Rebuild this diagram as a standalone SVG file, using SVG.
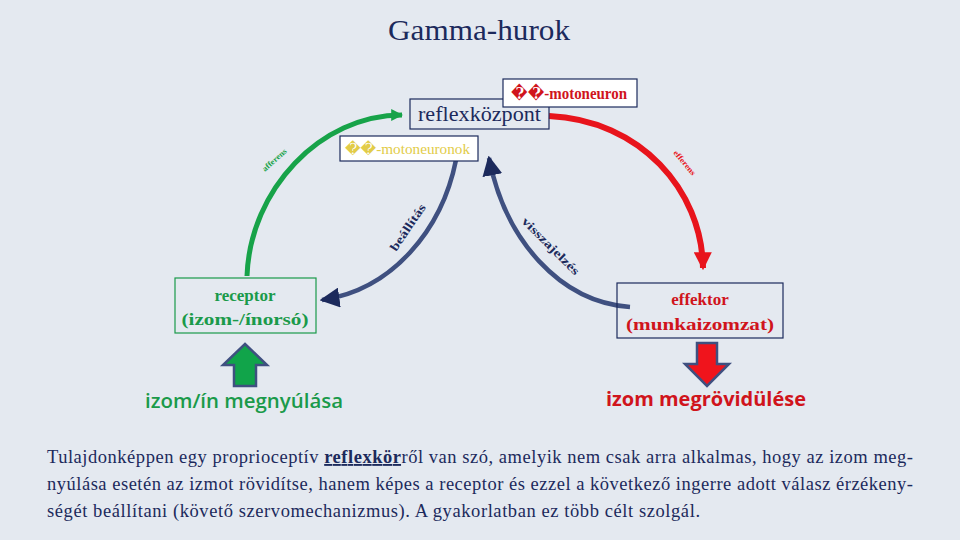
<svg xmlns="http://www.w3.org/2000/svg" width="960" height="540" viewBox="0 0 960 540">
<defs>
<style>
.serif{font-family:"Liberation Serif","DejaVu Serif",serif}
.sans{font-family:"Open Sans","Liberation Sans",sans-serif}
.box{fill:none;stroke:#1c2a5c;stroke-width:1.2}
.wbox{fill:#ffffff;stroke:#1c2a5c;stroke-width:1.2}
.para{font-size:18.5px;fill:#1c2a5c}
.lbl{font-weight:bold;font-size:12px;fill:#1c2a5c}
</style>
<marker id="ahNavy" markerUnits="userSpaceOnUse" markerWidth="20" markerHeight="20" refX="14" refY="8" orient="auto" viewBox="0 0 16 16">
<path d="M0,0 L16,8 L0,16 Z" fill="#1c2a5c"/>
</marker>
<marker id="ahGreen" markerUnits="userSpaceOnUse" markerWidth="12" markerHeight="12" refX="9" refY="5" orient="auto" viewBox="0 0 10 10">
<path d="M0,0 L10,5 L0,10 Z" fill="#17a349"/>
</marker>
<marker id="ahRed" markerUnits="userSpaceOnUse" markerWidth="18" markerHeight="18" refX="14" refY="8" orient="auto" viewBox="0 0 16 16">
<path d="M0,0 L16,8 L0,16 Z" fill="#e8141c"/>
</marker>
</defs>
<rect width="960" height="540" fill="#e4e9f0"/>
<text class="serif" x="479" y="40" font-size="30" fill="#1c2a5c" text-anchor="middle" textLength="182" lengthAdjust="spacingAndGlyphs">Gamma-hurok</text>

<g id="connectors">
<path d="M247,276 C250,190 320,115 402,115" fill="none" stroke="#17a349" stroke-width="5" marker-end="url(#ahGreen)"/>
<path d="M549,116 C640,120 702,190 703,268" fill="none" stroke="#e8141c" stroke-width="6" marker-end="url(#ahRed)"/>
<path d="M456,160 C442,230 392,290 322,300" fill="none" stroke="#3f5080" stroke-width="4.5" marker-end="url(#ahNavy)"/>
<path d="M630,307 C560,302 505,240 489,158" fill="none" stroke="#3f5080" stroke-width="4.5" marker-end="url(#ahNavy)"/>
<text class="serif" font-size="8" font-weight="bold" fill="#17a349" transform="translate(265,172) rotate(-42)" textLength="30" lengthAdjust="spacingAndGlyphs">afferens</text>
<text class="serif" font-size="8" font-weight="bold" fill="#e8141c" transform="translate(673,153) rotate(50)" textLength="30" lengthAdjust="spacingAndGlyphs">efferens</text>
<text class="serif lbl" transform="translate(396,252) rotate(-56)" textLength="54" lengthAdjust="spacingAndGlyphs">beállítás</text>
<text class="serif lbl" transform="translate(521,222) rotate(45)" textLength="76" lengthAdjust="spacingAndGlyphs">visszajelzés</text>
</g>

<g id="reflexkozpont">
<rect class="box" x="410" y="99" width="139" height="30"/>
<text class="serif" x="418" y="121" font-size="20" fill="#1c2a5c" textLength="123" lengthAdjust="spacingAndGlyphs">reflexközpont</text>
</g>
<g id="motoneuron">
<rect class="wbox" x="503" y="79" width="134" height="28"/>
<text class="serif" x="511" y="99" font-size="16" font-weight="bold" fill="#d0141c" textLength="116" lengthAdjust="spacingAndGlyphs">��-motoneuron</text>
</g>
<g id="motoneuronok">
<rect class="wbox" x="340" y="136" width="138" height="25"/>
<text class="serif" x="345" y="154" font-size="15" fill="#e2cc48" textLength="125" lengthAdjust="spacingAndGlyphs">��-motoneuronok</text>
</g>
<g id="receptor">
<rect x="175" y="278" width="141" height="55" fill="none" stroke="#1a9a4a" stroke-width="1.2"/>
<text class="serif" x="245" y="301" font-size="17" font-weight="bold" fill="#1a9a4a" text-anchor="middle">receptor</text>
<text class="serif" x="245" y="325" font-size="17" font-weight="bold" fill="#1a9a4a" text-anchor="middle" textLength="127" lengthAdjust="spacingAndGlyphs">(izom-/ínorsó)</text>
</g>
<g id="effektor">
<rect class="box" x="617" y="283" width="166" height="55"/>
<text class="serif" x="700" y="305" font-size="17" font-weight="bold" fill="#d0141c" text-anchor="middle">effektor</text>
<text class="serif" x="700" y="330" font-size="17" font-weight="bold" fill="#d0141c" text-anchor="middle" textLength="148" lengthAdjust="spacingAndGlyphs">(munkaizomzat)</text>
</g>
<g id="megnyulas">
<path d="M245,344 L267,365 L256,365 L256,386 L234,386 L234,365 L223,365 Z" fill="#11a44a" stroke="#3f5080" stroke-width="2.5" stroke-linejoin="miter"/>
<text class="sans" x="145" y="408" font-size="20" font-weight="600" fill="#1a9a4a" textLength="198" lengthAdjust="spacingAndGlyphs">izom/ín megnyúlása</text>
</g>
<g id="rovidules">
<path d="M697,343 L717,343 L717,364 L729,364 L707,386 L685,364 L697,364 Z" fill="#f0141c" stroke="#3f5080" stroke-width="2.5"/>
<text class="sans" x="606" y="406" font-size="20" font-weight="bold" fill="#d0141c" textLength="200" lengthAdjust="spacingAndGlyphs">izom megrövidülése</text>
</g>

<g id="paragraph">
<text class="serif para" x="47" y="463" textLength="866" lengthAdjust="spacing">Tulajdonképpen egy proprioceptív <tspan font-weight="bold" text-decoration="underline">reflexkör</tspan>ről van szó, amelyik nem csak arra alkalmas, hogy az izom meg-</text>
<text class="serif para" x="47" y="490" textLength="866" lengthAdjust="spacing">nyúlása esetén az izmot rövidítse, hanem képes a receptor és ezzel a következő ingerre adott válasz érzékeny-</text>
<text class="serif para" x="47" y="517" textLength="653" lengthAdjust="spacing">ségét beállítani (követő szervomechanizmus). A gyakorlatban ez több célt szolgál.</text>
</g>
</svg>
